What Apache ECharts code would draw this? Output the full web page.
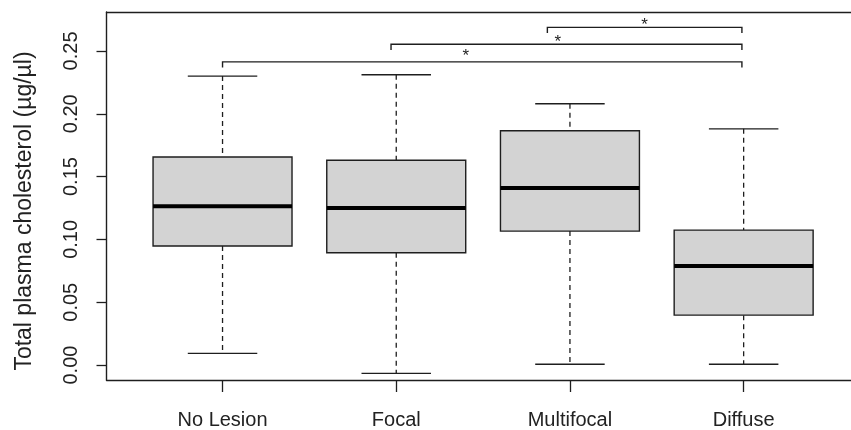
<!DOCTYPE html>
<html>
<head>
<meta charset="utf-8">
<script src="https://cdn.jsdelivr.net/npm/echarts@6/dist/echarts.min.js"></script>
<style>
  html, body { margin: 0; padding: 0; background: #fff; }
  #chart { width: 851px; height: 430px; }
</style>
</head>
<body>
<div id="chart"></div>
<script>
// Five-number summaries per lesion group
const categories = ['No Lesion', 'Focal', 'Multifocal', 'Diffuse'];
const whiskerLow  = [0.0093, -0.0066, 0.0006, 0.0006];
const quartile1   = [0.0947, 0.0894, 0.1066, 0.0397];
const medians     = [0.1264, 0.1250, 0.1410, 0.0788];
const quartile3   = [0.1656, 0.1630, 0.1865, 0.1074];
const whiskerHigh = [0.2300, 0.2310, 0.2080, 0.1880];
const yTicks = [0, 0.05, 0.10, 0.15, 0.20, 0.25];
const xTicks = [1, 2, 3, 4];

// Significance brackets (group positions, bar level) and their asterisks
const bracketFrom  = [1.00, 1.97, 2.87];
const bracketTo    = [3.99, 3.99, 3.99];
const bracketLevel = [0.2413, 0.2553, 0.2688];
const starX = [2.40, 2.93, 3.43];
const starY = [0.2490, 0.2600, 0.2733];

const FONT = "'Liberation Sans', Arial, sans-serif";
const INK = '#1e1e1e';
const frameLine = { show: true, onZero: false, lineStyle: { color: INK, width: 1.4 } };

const boxData = categories.map((c, i) => [
  i + 1, whiskerLow[i], quartile1[i], medians[i], quartile3[i], whiskerHigh[i]
]);
const bracketData = bracketFrom.map((f, i) => [f, bracketTo[i], bracketLevel[i], starX[i], starY[i]]);

function renderBox(params, api) {
  const x = api.value(0);
  const pt = v => api.coord([x, v]);
  const half = api.size([0.4, 0])[0];
  const capHalf = half / 2;
  const pLo = pt(api.value(1)), pQ1 = pt(api.value(2)), pMed = pt(api.value(3));
  const pQ3 = pt(api.value(4)), pHi = pt(api.value(5));
  const cx = pLo[0];
  const dashed = { stroke: INK, lineWidth: 1.3, lineDash: [5, 4] };
  const solid = { stroke: INK, lineWidth: 1.4 };
  return {
    type: 'group',
    children: [
      { type: 'line', shape: { x1: cx, y1: pHi[1], x2: cx, y2: pQ3[1] }, style: dashed },
      { type: 'line', shape: { x1: cx, y1: pQ1[1], x2: cx, y2: pLo[1] }, style: dashed },
      { type: 'line', shape: { x1: cx - capHalf, y1: pHi[1], x2: cx + capHalf, y2: pHi[1] }, style: solid },
      { type: 'line', shape: { x1: cx - capHalf, y1: pLo[1], x2: cx + capHalf, y2: pLo[1] }, style: solid },
      { type: 'rect', shape: { x: cx - half, y: pQ3[1], width: half * 2, height: pQ1[1] - pQ3[1] },
        style: { fill: '#d3d3d3', stroke: INK, lineWidth: 1.4 } },
      { type: 'line', shape: { x1: cx - half, y1: pMed[1], x2: cx + half, y2: pMed[1] },
        style: { stroke: '#000', lineWidth: 4 } }
    ]
  };
}

function renderBracket(params, api) {
  const drop = 0.0045;
  const a = api.coord([api.value(0), api.value(2) - drop]);
  const b = api.coord([api.value(0), api.value(2)]);
  const c = api.coord([api.value(1), api.value(2)]);
  const d = api.coord([api.value(1), api.value(2) - drop]);
  const s = api.coord([api.value(3), api.value(4)]);
  return {
    type: 'group',
    children: [
      { type: 'polyline', shape: { points: [a, b, c, d] },
        style: { stroke: INK, lineWidth: 1.4, fill: null } },
      { type: 'text', x: s[0], y: s[1] + 4,
        style: { text: '*', font: '17px ' + FONT, fill: INK, align: 'center', verticalAlign: 'middle' } }
    ]
  };
}

const X_MIN = 0.332, X_MAX = 4.618;

const chart = echarts.init(document.getElementById('chart'), null, { renderer: 'canvas' });
chart.setOption({
  animation: false,
  backgroundColor: '#fff',
  grid: { left: 106.5, top: 12, right: 0, height: 369, show: false },
  xAxis: [
    {
      type: 'value', min: X_MIN, max: X_MAX, position: 'bottom',
      splitLine: { show: false },
      axisLine: frameLine,
      axisTick: { show: true, customValues: xTicks, length: 12, lineStyle: { color: INK, width: 1.3 } },
      axisLabel: {
        customValues: xTicks, margin: 30, color: '#222', fontSize: 20, fontFamily: FONT,
        formatter: v => categories[Math.round(v) - 1] || ''
      }
    },
    {
      // top edge of the plot frame
      type: 'value', min: X_MIN, max: X_MAX, position: 'top',
      splitLine: { show: false }, axisLine: frameLine,
      axisTick: { show: false }, axisLabel: { show: false }
    }
  ],
  yAxis: {
    type: 'value', min: -0.0119, max: 0.281,
    name: 'Total plasma cholesterol (µg/µl)',
    nameLocation: 'middle', nameRotate: 90, nameGap: 70,
    nameTextStyle: { color: '#222', fontSize: 23, fontFamily: FONT, padding: [0, 30, 0, 0] },
    splitLine: { show: false },
    axisLine: frameLine,
    axisTick: { show: true, customValues: yTicks, length: 10, lineStyle: { color: INK, width: 1.3 } },
    axisLabel: {
      customValues: yTicks, rotate: 90, margin: 25, color: '#222', fontSize: 20, fontFamily: FONT,
      formatter: v => v.toFixed(2)
    }
  },
  series: [
    { type: 'custom', renderItem: renderBox, data: boxData, encode: { x: 0, y: [1, 2, 3, 4, 5] }, silent: true },
    { type: 'custom', renderItem: renderBracket, data: bracketData, encode: { x: [0, 1, 3], y: [2, 4] }, silent: true }
  ]
});
</script>
</body>
</html>
